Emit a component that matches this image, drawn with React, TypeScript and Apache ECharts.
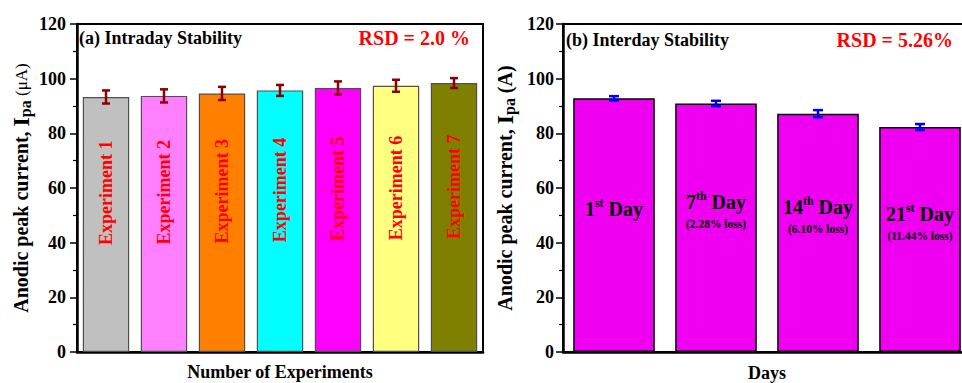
import React, { useEffect, useRef } from 'react';
import * as echarts from 'echarts';

const SERIF = 'Liberation Serif';

// Panel (a) — intraday stability
const intraCategories = ['Experiment 1', 'Experiment 2', 'Experiment 3', 'Experiment 4', 'Experiment 5', 'Experiment 6', 'Experiment 7'];
const intraValues = [93.3, 93.7, 94.6, 95.7, 96.6, 97.4, 98.4];
const intraErrors = [2.4, 2.4, 2.4, 2.0, 2.4, 2.2, 1.8];
const intraColors = ['#C0C0C0', '#FF80FF', '#FF8000', '#00FFFF', '#FF00FF', '#FFFF80', '#808000'];

// Panel (b) — interday stability
const interCategories = ['1st Day', '7th Day', '14th Day', '21st Day'];
const interNumbers = ['1', '7', '14', '21'];
const interSuffixes = ['st', 'th', 'th', 'st'];
const interLoss = ['', '(2.28% loss)', '(6.10% loss)', '(11.44% loss)'];
const interValues = [92.8, 90.9, 87.2, 82.3];
const interErrors = [0.8, 1.0, 1.3, 1.1];

const yMin = 0;
const yMax = 120;
const yInterval = 20;

function errorRenderer(color: string, halfCap: number, width: number) {
  return (params: any, api: any) => {
    const x = api.value(0);
    const v = api.value(1);
    const e = api.value(2);
    const top = api.coord([x, v + e]);
    const bot = api.coord([x, v - e]);
    const st = { stroke: color, lineWidth: width };
    return {
      type: 'group',
      children: [
        { type: 'line', shape: { x1: top[0], y1: top[1], x2: bot[0], y2: bot[1] }, style: st },
        { type: 'line', shape: { x1: top[0] - halfCap, y1: top[1], x2: top[0] + halfCap, y2: top[1] }, style: st },
        { type: 'line', shape: { x1: bot[0] - halfCap, y1: bot[1], x2: bot[0] + halfCap, y2: bot[1] }, style: st },
      ],
    };
  };
}

function yAxisBase(gridIndex: number, name: string, rich: any, nameGap: number, labelMargin: number) {
  return {
    type: 'value',
    gridIndex,
    min: yMin,
    max: yMax,
    interval: yInterval,
    name,
    nameLocation: 'middle',
    nameGap,
    nameTextStyle: { rich },
    axisLine: { show: true, lineStyle: { color: '#000', width: 2.5 } },
    axisTick: { show: true, length: 7, lineStyle: { color: '#000', width: 1.5 } },
    minorTick: { show: true, splitNumber: 2, length: 4, lineStyle: { color: '#000', width: 1.2 } },
    splitLine: { show: false },
    axisLabel: { color: '#000', fontSize: 18, fontWeight: 'bold', fontFamily: SERIF, margin: labelMargin },
  };
}

function xAxisBase(gridIndex: number, categories: string[], name: string, nameGap: number) {
  return {
    type: 'category',
    gridIndex,
    data: categories,
    name,
    nameLocation: 'middle',
    nameGap,
    nameTextStyle: { color: '#000', fontSize: 18, fontWeight: 'bold', fontFamily: SERIF },
    axisLine: { show: true, lineStyle: { color: '#000', width: 2.5 } },
    axisTick: { show: false },
    axisLabel: { show: false },
    splitLine: { show: false },
  };
}

function titleText(text: string, pos: any, color: string, size: number) {
  return {
    type: 'text',
    ...pos,
    style: { text, fill: color, fontFamily: SERIF, fontSize: size, fontWeight: 'bold' },
  };
}

export default function App() {
  const ref = useRef<HTMLDivElement>(null);

  useEffect(() => {
    if (!ref.current) return;
    const chart = echarts.init(ref.current, undefined, { renderer: 'svg' });

    const nameRich = (unitBold: boolean) => ({
      a: { fontSize: 20, fontWeight: 'bold', fontFamily: SERIF, color: '#000' },
      i: { fontSize: 24, fontWeight: 'bold', fontFamily: SERIF, color: '#000' },
      s: { fontSize: 16, fontWeight: 'bold', fontFamily: SERIF, color: '#000', verticalAlign: 'bottom' },
      u: { fontSize: unitBold ? 20 : 17, fontWeight: unitBold ? 'bold' : 'normal', fontFamily: SERIF, color: '#000' },
    });

    const gridCommon = {
      show: true,
      borderColor: '#000',
      borderWidth: 2,
      backgroundColor: 'transparent',
      containLabel: false,
      outerBoundsMode: 'none',
    };

    const option: any = {
      animation: false,
      backgroundColor: '#fff',
      grid: [
        { ...gridCommon, left: 77, top: 24, width: 406, height: 328 },
        { ...gridCommon, left: 563, top: 24, width: 408, height: 328 },
      ],
      xAxis: [
        xAxisBase(0, intraCategories, 'Number of Experiments', 11),
        xAxisBase(1, interCategories, 'Days', 12),
      ],
      yAxis: [
        yAxisBase(0, '{a|Anodic peak current, }{i|I}{s|pa}{u| (μA)}', nameRich(false), 44, 11),
        yAxisBase(1, '{a|Anodic peak current, }{i|I}{s|pa}{u| (A)}', nameRich(true), 46, 9),
      ],
      series: [
        {
          type: 'bar',
          xAxisIndex: 0,
          yAxisIndex: 0,
          barCategoryGap: '20%',
          data: intraValues.map((v, i) => ({ value: v, itemStyle: { color: intraColors[i] } })),
          itemStyle: { borderColor: '#505050', borderWidth: 1.2 },
          label: {
            show: true,
            position: ['50%', '58%'],
            rotate: 90,
            align: 'left',
            verticalAlign: 'middle',
            formatter: '{b}',
            color: '#FF0000',
            fontSize: 18,
            fontWeight: 'bold',
            fontFamily: SERIF,
          },
          z: 2,
        },
        {
          type: 'custom',
          xAxisIndex: 0,
          yAxisIndex: 0,
          data: intraValues.map((v, i) => [i, v, intraErrors[i]]),
          encode: { x: 0, y: 1 },
          renderItem: errorRenderer('#8B0000', 4, 2.5),
          z: 5,
        },
        {
          type: 'bar',
          xAxisIndex: 1,
          yAxisIndex: 1,
          barCategoryGap: '20%',
          data: interValues,
          itemStyle: { color: '#F000F0', borderColor: '#000', borderWidth: 1.5 },
          label: {
            show: true,
            position: 'inside',
            offset: [0, -16],
            formatter: (p: any) => {
              const i = p.dataIndex;
              let s = `{n|${interNumbers[i]}}{sup|${interSuffixes[i]}}{n| Day}`;
              if (interLoss[i]) s += `\n{l|${interLoss[i]}}`;
              return s;
            },
            rich: {
              n: { fontSize: 20, fontWeight: 'bold', fontFamily: SERIF, color: '#000', lineHeight: 24 },
              sup: { fontSize: 12, fontWeight: 'bold', fontFamily: SERIF, color: '#000', verticalAlign: 'top', lineHeight: 24 },
              l: { fontSize: 11.5, fontWeight: 'bold', fontFamily: SERIF, color: '#000', lineHeight: 20 },
            },
          },
          z: 2,
        },
        {
          type: 'custom',
          xAxisIndex: 1,
          yAxisIndex: 1,
          data: interValues.map((v, i) => [i, v, interErrors[i]]),
          encode: { x: 0, y: 1 },
          renderItem: errorRenderer('#0000FF', 5, 2.5),
          z: 5,
        },
      ],
      graphic: [
        titleText('(a) Intraday Stability', { left: 79, top: 29 }, '#000', 18),
        titleText('RSD = 2.0 %', { right: 492, top: 28 }, '#FF0000', 20),
        titleText('(b) Interday Stability', { left: 566, top: 31 }, '#000', 18),
        titleText('RSD = 5.26%', { right: 9, top: 30 }, '#FF0000', 20),
      ],
    };

    chart.setOption(option);
    return () => chart.dispose();
  }, []);

  return <div ref={ref} style={{ position: 'absolute', left: 0, top: 0, width: 962, height: 383 }} />;
}
